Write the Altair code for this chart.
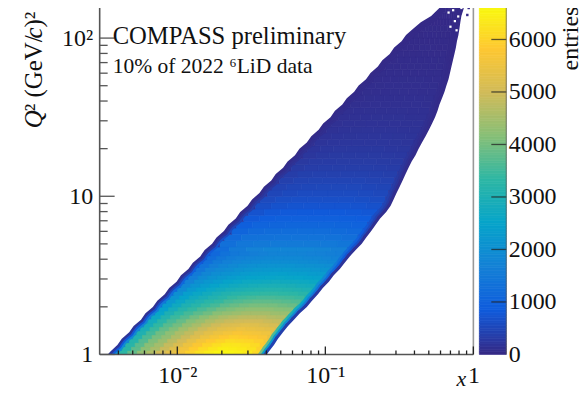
import altair as alt
import pandas as pd

FONT = "Liberation Serif"
row_step = 0.04
# left / right boundary of the populated region per row (log10 x)
row_lo = [-2.45,-2.405,-2.375,-2.325,-2.295,-2.245,-2.215,-2.165,-2.135,-2.085,-2.055,-2.005,-1.975,-1.925,-1.895,-1.845,-1.815,-1.765,-1.735,-1.685,-1.655,-1.605,-1.575,-1.525,-1.495,-1.445,-1.415,-1.365,-1.335,-1.285,-1.255,-1.205,-1.175,-1.125,-1.095,-1.045,-1.015,-0.965,-0.935,-0.885,-0.855,-0.805,-0.775,-0.725,-0.695,-0.645,-0.615,-0.565,-0.535,-0.485,-0.455,-0.405,-0.355,-0.285,-0.24]
row_hi = [-1.38,-1.347,-1.32,-1.286,-1.252,-1.212,-1.172,-1.125,-1.09,-1.05,-1.017,-0.976,-0.943,-0.902,-0.869,-0.835,-0.795,-0.754,-0.724,-0.69,-0.66,-0.63,-0.589,-0.559,-0.539,-0.519,-0.498,-0.478,-0.458,-0.438,-0.417,-0.391,-0.37,-0.347,-0.323,-0.3,-0.279,-0.259,-0.242,-0.229,-0.212,-0.195,-0.182,-0.168,-0.158,-0.148,-0.138,-0.128,-0.118,-0.111,-0.101,-0.094,-0.088,-0.081,-0.067]
lo_start, lo_end = -2.49, -0.20
hi_start, hi_end = -1.41, -0.06
# entries per row: two left edge strips, eight interior cells, two right edge strips
row_values = [
[200,800,3300,4400,5300,6000,6450,6550,6300,5700,2400,400],
[200,800,3200,4300,5200,5800,6200,6300,6100,5500,2300,400],
[190,800,3100,4200,5000,5600,5950,6000,5850,5300,2200,400],
[180,780,3000,4000,4800,5350,5650,5700,5550,5050,2100,380],
[170,760,2900,3800,4550,5050,5280,5300,5200,4750,2000,360],
[160,740,2800,3600,4300,4750,4930,4950,4850,4450,1900,340],
[150,720,2700,3400,4050,4450,4590,4600,4500,4150,1800,320],
[140,700,2550,3200,3800,4150,4250,4250,4150,3850,1700,300],
[130,650,2400,3000,3500,3800,3900,3900,3800,3500,1550,280],
[120,600,2250,2800,3250,3500,3600,3600,3500,3250,1450,260],
[110,550,2100,2550,2950,3200,3250,3250,3150,2950,1300,240],
[105,500,1900,2350,2700,2900,2950,2950,2880,2700,1200,220],
[100,460,1750,2150,2450,2600,2650,2650,2600,2450,1100,200],
[95,420,1600,1950,2250,2380,2400,2400,2350,2200,1000,180],
[90,380,1450,1800,2050,2150,2150,2150,2100,2000,900,170],
[85,350,1300,1650,1850,1950,1950,1950,1900,1800,800,160],
[80,320,1200,1500,1680,1750,1750,1750,1700,1620,720,150],
[75,300,1280,1430,1480,1500,1500,1500,1470,1400,650,140],
[70,280,1150,1290,1330,1350,1350,1350,1320,1260,600,130],
[65,260,1020,1140,1180,1200,1200,1200,1170,1120,540,120],
[60,240,890,1000,1040,1050,1050,1050,1020,980,480,110],
[58,220,780,870,910,920,920,920,900,860,420,100],
[55,200,680,760,790,800,800,800,780,750,370,90],
[52,180,600,665,690,700,700,700,680,650,320,85],
[50,170,530,590,615,620,620,620,600,570,280,80],
[48,160,470,520,545,550,550,550,530,500,250,75],
[45,150,420,465,485,490,490,490,470,450,220,70],
[42,135,365,410,425,430,430,430,415,400,200,65],
[40,125,320,360,378,380,380,380,365,350,175,60],
[38,115,280,315,328,330,330,330,318,305,155,55],
[36,105,245,275,288,290,290,290,280,270,135,50],
[34,95,215,245,258,260,260,260,250,240,120,45],
[32,90,190,220,228,230,230,230,222,212,105,42],
[30,85,170,190,198,200,200,200,192,185,92,38],
[28,80,150,170,178,180,180,180,174,165,82,35],
[26,70,135,152,158,160,160,160,155,148,74,32],
[24,62,118,133,138,140,140,140,135,130,65,28],
[22,55,105,118,123,125,125,125,120,115,58,25],
[20,50,92,104,109,110,110,110,106,102,50,22],
[18,44,80,90,94,95,95,95,92,88,44,20],
[16,40,72,81,84,85,85,85,82,78,40,18],
[15,36,62,70,74,75,75,75,72,68,35,16],
[14,32,55,62,64,65,65,65,63,60,30,14],
[13,28,48,54,57,58,58,58,56,53,27,12],
[12,24,42,47,49,50,50,50,48,46,24,10],
[10,20,35,39,41,42,42,42,40,38,20,9],
[9,18,30,34,35,36,36,36,35,33,17,8],
[8,15,25,28,29,30,30,30,29,27,14,7],
[7,12,20,23,24,25,25,25,24,22,12,6],
[6,10,16,18,19,20,20,20,19,18,10,5],
[5,8,12,14,15,15,15,15,14,13,8,4],
[4,6,9,11,12,12,12,12,11,10,6,3],
[3,4,6,7,8,8,8,8,7,7,4,2],
[2,3,4,5,5,5,5,5,5,4,3,2],
[1,2,2,3,3,3,3,3,3,2,2,1],
]
strip = 0.027

# finer table for the steep low-Q2 part: rows 0.025 high, cells 0.065 wide, each row starting 0.025 further right
fine_rows = [
[650,1640,3280,3800,4260,4590,4980,5310,5630,5960,6220,6420,6550,6550,6480,6350,6090,5570],
[640,1620,3240,3760,4210,4530,4900,5230,5550,5860,6100,6290,6420,6400,6340,6220,5960,5450],
[630,1620,3200,3720,4160,4450,4830,5140,5470,5750,5980,6150,6280,6260,6200,6090,5820,5340],
[610,1610,3150,3670,4080,4360,4730,5020,5340,5620,5820,5980,6100,6060,6000,5900,5640,5190],
[590,1580,3080,3600,4000,4260,4600,4900,5190,5450,5640,5780,5900,5850,5780,5700,5430,5020],
[570,1540,3020,3530,3930,4220,4560,4790,5070,5300,5470,5590,5700,5640,5590,5530,5240,4850],
[550,1500,2930,3420,3810,4080,4410,4640,4900,5120,5280,5380,5480,5430,5370,5300,5040,4660],
[530,1470,2850,3330,3690,3950,4270,4500,4740,4950,5110,5190,5270,5220,5140,5080,4850,4480],
[500,1430,2770,3220,3570,3830,4120,4330,4580,4750,4880,4960,5000,4980,4900,4830,4630,4280],
[480,1370,2650,3100,3430,3670,3950,4160,4380,4540,4640,4730,4750,4730,4640,4590,4400,4060],
[450,1310,2530,2980,3300,3530,3750,3930,4160,4290,4380,4470,4470,4470,4380,4340,4160,3840],
[430,1250,2420,2840,3150,3360,3570,3750,3950,4070,4170,4240,4240,4230,4150,4110,3940,3640],
[410,1190,2300,2700,3000,3190,3390,3540,3740,3860,3950,4010,4010,3990,3930,3870,3710,3440],
[380,1140,2200,2580,2860,3040,3220,3360,3550,3650,3730,3790,3790,3760,3700,3650,3490,3260],
[360,1090,2100,2470,2720,2890,3060,3190,3360,3440,3510,3560,3560,3530,3490,3420,3280,3060],
[340,1040,1990,2360,2590,2760,2930,3070,3170,3240,3300,3340,3340,3300,3270,3200,3070,2860],
[320,980,1880,2230,2440,2600,2760,2880,2970,3030,3090,3120,3120,3090,3050,2990,2870,2680],
[300,930,1780,2100,2300,2450,2600,2720,2800,2860,2900,2930,2920,2890,2840,2790,2670,2510],
[280,880,1680,2000,2170,2310,2450,2560,2640,2680,2720,2750,2720,2700,2650,2610,2490,2350],
[260,830,1580,1880,2050,2180,2290,2390,2470,2500,2530,2560,2530,2510,2470,2420,2320,2180],
[240,790,1490,1780,1940,2060,2160,2260,2330,2350,2380,2400,2350,2350,2300,2260,2160,2040],
[230,760,1420,1700,1840,1950,2050,2130,2200,2220,2240,2250,2210,2190,2150,2110,2030,1910],
[210,720,1350,1600,1750,1850,1950,2010,2070,2080,2090,2100,2060,2040,2000,1960,1890,1790],
[200,670,1260,1510,1640,1740,1820,1880,1930,1940,1950,1950,1910,1890,1850,1810,1760,1660],
[180,630,1180,1410,1540,1630,1700,1760,1810,1820,1820,1820,1780,1770,1730,1690,1640,1550],
[170,600,1100,1330,1450,1530,1600,1650,1700,1700,1700,1700,1670,1650,1620,1580,1530,1450],
]
fine_x_start = -2.53
fine_x_step = 0.065
fine_x_shift = 0.025
fine_y_step = 0.025

# isolated bins around the tip of the distribution
hole_x = [0.73,0.79,0.86,0.68,0.75,0.70,0.83,0.77,0.86]
hole_y = [150,137,125,145,128,118,155,112,100]
speck_x = [0.62,0.58,0.93,0.91,0.55]
speck_y = [150,142,155,140,135]

x_major = [0.01, 0.1, 1]
x_minor = [0.004,0.005,0.006,0.007,0.008,0.009,0.02,0.03,0.04,0.05,0.06,0.07,0.08,0.09,0.2,0.3,0.4,0.5,0.6,0.7,0.8,0.9]
y_major = [1, 10, 100]
y_minor = [2,3,4,5,6,7,8,9,20,30,40,50,60,70,80,90]
bar_ticks = [1000,2000,3000,4000,5000,6000]
bar_labels = [0,1000,2000,3000,4000,5000,6000]
bar_max = 6625
bird_stops = [i * bar_max / 8 for i in range(9)]
bird_colors = ["#352a87","#0f5cdd","#1481d6","#06a4ca","#2eb7a4","#87bf77","#d1bb59","#fec832","#f9fb0e"]

cells = []
for i, (lo, hi, vals) in enumerate(zip(row_lo, row_hi, row_values)):
    inner = (hi - lo - 4 * strip) / 8
    edges = [lo, lo + strip, lo + 2 * strip] + [lo + 2 * strip + inner * k for k in range(1, 9)] + [hi - strip, hi]
    for j, v in enumerate(vals):
        cells.append(dict(x=10 ** edges[j], x2=10 ** edges[j + 1],
                          y=10 ** (i * row_step), y2=10 ** ((i + 1) * row_step), v=v))
cells = pd.DataFrame(cells)

fine = []
for k, vals in enumerate(fine_rows):
    x0 = fine_x_start + fine_x_shift * k
    for j, v in enumerate(vals):
        fine.append(dict(x=10 ** (x0 + j * fine_x_step), x2=10 ** (x0 + (j + 1) * fine_x_step),
                         y=10 ** (k * fine_y_step), y2=10 ** ((k + 1) * fine_y_step), v=v))
fine = pd.DataFrame(fine)

W, H = 375, 349
xs = alt.Scale(type="log", domain=[0.00299, 1], nice=False)
ys = alt.Scale(type="log", domain=[1, 158], nice=False)
cs = alt.Scale(domain=bird_stops, range=bird_colors, interpolate="rgb")
x_axis = alt.Axis(values=x_major, title=None, ticks=False, domain=False, grid=False,
                  labelFont=FONT, labelFontSize=24, labelColor="#111", labelPadding=9, labelOverlap=False, labelFlush=False,
                  labelExpr="datum.value==1?'1':datum.value==0.1?'10⁻¹':'10⁻²'")
y_axis = alt.Axis(values=y_major, title=None, ticks=False, domain=False, grid=False,
                  labelFont=FONT, labelFontSize=24, labelColor="#111", labelPadding=7, labelOverlap=False, labelFlush=False,
                  labelExpr="datum.value==1?'1':datum.value==10?'10':'10²'")
X = lambda f: alt.X(f, scale=xs, axis=x_axis)
Y = lambda f: alt.Y(f, scale=ys, axis=y_axis)

def cell_layer(df):
    return alt.Chart(df).mark_rect(strokeWidth=0.7, clip=True).encode(
        x=X("x:Q"), x2="x2:Q", y=Y("y:Q"), y2="y2:Q",
        color=alt.Color("v:Q", scale=cs, legend=None),
        stroke=alt.Color("v:Q", scale=cs, legend=None),
    )

heat = cell_layer(cells)
heat_fine = cell_layer(fine)

# smooth edge bands that follow the boundary of the populated region
def band(points, col_a, col_b, width):
    rows = []
    for i in range(len(row_values)):
        v = (row_values[i][col_a] + row_values[i][col_b]) / 2
        rows.append(dict(x=10 ** points[i], x2=10 ** points[i + 1],
                         y=10 ** ((i - 0.5) * row_step), y2=10 ** ((i + 0.5) * row_step), v=v))
    return alt.Chart(pd.DataFrame(rows)).mark_rule(strokeWidth=width, clip=True, strokeCap="round").encode(
        x=X("x:Q"), x2="x2:Q", y=Y("y:Q"), y2="y2:Q",
        color=alt.Color("v:Q", scale=cs, legend=None))

left_pts = [lo_start] + row_lo
right_pts = [hi_start] + row_hi
bands_left = [band(left_pts, 1, 2, 13), band(left_pts, 1, 1, 9), band(left_pts, 0, 0, 5)]
bands_right = [band(right_pts, 9, 10, 15), band(right_pts, 10, 10, 10), band(right_pts, 11, 11, 6)]

def mask(points, end_point, outer):
    rows = []
    pts = points + [end_point]
    for i, p in enumerate(pts):
        rows.append(dict(x=outer, x2=10 ** p, y=10 ** ((i - 0.5) * row_step)))
    return alt.Chart(pd.DataFrame(rows)).mark_area(orient="horizontal", color="white", clip=True, interpolate="linear").encode(
        y=Y("y:Q"), x=X("x:Q"), x2="x2:Q")

mask_left = mask(left_pts, lo_end, 0.00299)
mask_right = mask(right_pts, hi_end, 1.0)

holes = alt.Chart(pd.DataFrame({"x": hole_x, "y": hole_y})).mark_square(color="white", size=5, opacity=1).encode(
    x=X("x:Q"), y=Y("y:Q"))
specks = alt.Chart(pd.DataFrame({"x": speck_x, "y": speck_y})).mark_square(color="#352a87", size=6, opacity=1).encode(
    x=X("x:Q"), y=Y("y:Q"))

def xticks(vals, size, color):
    return alt.Chart(pd.DataFrame({"t": vals})).mark_rule(color=color, strokeWidth=1.3).encode(
        x=X("t:Q"), y=alt.value(H), y2=alt.value(H - size))

def yticks(vals, size, color):
    return alt.Chart(pd.DataFrame({"t": vals})).mark_rule(color=color, strokeWidth=1.3).encode(
        y=Y("t:Q"), x=alt.value(0), x2=alt.value(size))

def label(text, x, y, size=24, style="normal", angle=0, align="left"):
    return alt.Chart(pd.DataFrame({"s": [text]})).mark_text(
        font=FONT, fontSize=size, fontStyle=style, angle=angle, align=align, baseline="alphabetic", color="#111"
    ).encode(text="s:N", x=alt.value(x), y=alt.value(y))

def vline(px, color, h=None):
    return alt.Chart(pd.DataFrame({"a": [0]})).mark_rule(color=color, strokeWidth=1.6).encode(
        x=alt.value(px), y=alt.value(0), y2=alt.value(H))

def hline(py, color):
    return alt.Chart(pd.DataFrame({"a": [0]})).mark_rule(color=color, strokeWidth=1.6).encode(
        y=alt.value(py), x=alt.value(0), x2=alt.value(W))

main = alt.layer(
    heat, heat_fine, *bands_left, *bands_right, mask_left, mask_right, holes, specks,
    hline(0, "#999"), vline(W, "#999"), vline(0, "#555"), hline(H, "#555"),
    xticks(x_major, 8, "#222"), xticks(x_minor, 4, "#222"),
    yticks(y_major, 15, "#555"), yticks(y_minor, 8, "#555"),
    label("COMPASS preliminary", 13, 37, 24.7),
    label("10% of 2022 ⁶LiD data", 13, 67, 21.6),
    label("x", 358, 381, 22, "italic"),
    label("Q", -58, 122, 25, "italic", 270),
    label("² (GeV/", -58, 105, 25, "normal", 270),
    label("c", -58, 32, 25, "italic", 270),
    label(")²", -58, 21, 25, "normal", 270),
).properties(width=W, height=H)

bar_df = pd.DataFrame({"v": [float(k) for k in range(0, bar_max, 50)]})
bar_df["v2"] = bar_df["v"] + 50
bs = alt.Scale(domain=[0, bar_max], nice=False, zero=False)
b_axis = alt.Axis(orient="right", values=bar_labels, title=None, ticks=False, domain=False,
                  grid=False, labelFont=FONT, labelFontSize=24, labelColor="#111", labelPadding=2, labelFlush=False,
                  labelOverlap=False, format="d")
bar = alt.Chart(bar_df).mark_rect(strokeWidth=0.7).encode(
    x=alt.value(0), x2=alt.value(27),
    y=alt.Y("v:Q", scale=bs, axis=b_axis),
    y2="v2:Q",
    color=alt.Color("v:Q", scale=cs, legend=None),
    stroke=alt.Color("v:Q", scale=cs, legend=None),
)
bar_tick = alt.Chart(pd.DataFrame({"t": bar_ticks})).mark_rule(color="#222", opacity=0.75, strokeWidth=1.3).encode(
    y=alt.Y("t:Q", scale=bs, axis=b_axis), x=alt.value(12), x2=alt.value(27))
bar_edge = alt.Chart(pd.DataFrame({"a": [0]})).mark_rule(color="#555", opacity=0.7, strokeWidth=1).encode(
    x=alt.value(27), y=alt.value(0), y2=alt.value(H))
side = alt.layer(bar, bar_tick, bar_edge, label("entries", 99, 0, 24, "normal", 270, "right")).properties(width=27, height=H)

chart = alt.hconcat(main, side, spacing=-4).resolve_scale(color="independent", x="independent", y="independent", stroke="independent").properties(
    padding={"left": 14, "top": -4, "right": -4, "bottom": -5}, background="white"
).configure_view(stroke=None)

chart.save("out.html", embed_options={"renderer": "svg", "actions": False})
